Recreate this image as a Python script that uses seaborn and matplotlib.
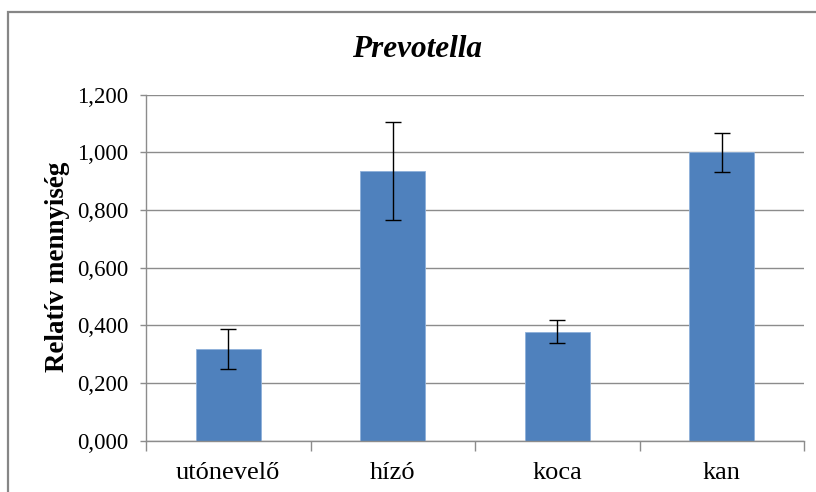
import matplotlib
matplotlib.use("Agg")
import matplotlib.pyplot as plt
import seaborn as sns
import pandas as pd
import numpy as np
from matplotlib.patches import Rectangle
from matplotlib.ticker import FuncFormatter, FixedLocator

categories = ["utónevelő", "hízó", "koca", "kan"]
values = [0.317, 0.937, 0.378, 1.000]
errors = [0.069, 0.170, 0.040, 0.068]
yticks = [0.0, 0.2, 0.4, 0.6, 0.8, 1.0, 1.2]
title = "Prevotella"
ylabel = "Relatív mennyiség"

sns.set_theme(style="white")
plt.rcParams["font.family"] = ["Liberation Serif", "DejaVu Serif"]
plt.rcParams["text.color"] = "black"

df = pd.DataFrame({"cat": categories, "val": values})

fig = plt.figure(figsize=(8.16, 4.92), dpi=100)
ax = fig.add_axes([146/816, 1-440.7/492, (804-146)/816, (440.7-94.7)/492])

sns.barplot(data=df, x="cat", y="val", color="#4F81BD", saturation=1,
            width=0.395, edgecolor="#8EB0DA", linewidth=0.6, ax=ax, zorder=2)
ax.errorbar(np.arange(len(categories)), values, yerr=errors, fmt="none",
            ecolor="black", elinewidth=1.0, capsize=5.5, capthick=1.0, zorder=3)

ax.set_xlim(-0.5, len(categories) - 0.5)
ax.set_ylim(0, 1.2)
ax.set_yticks(yticks)
ax.yaxis.set_major_formatter(FuncFormatter(lambda v, p: f"{v:.3f}".replace(".", ",")))
ax.grid(axis="y", color="#8C8C8C", linewidth=1.0, zorder=0)
ax.set_axisbelow(True)

for s in ["top", "right"]:
    ax.spines[s].set_visible(False)
for s in ["left", "bottom"]:
    ax.spines[s].set_color("#8C8C8C")
    ax.spines[s].set_linewidth(1.0)

ax.set_xlabel("")
ax.set_ylabel("")
ax.tick_params(axis="y", which="major", left=True, length=4.3, width=1.0,
               color="#8C8C8C", labelsize=16.5, pad=8.5, labelcolor="black")
ax.tick_params(axis="x", which="major", bottom=False, labelsize=19, pad=9,
               labelcolor="black")
ax.xaxis.set_minor_locator(FixedLocator(np.arange(-0.5, len(categories), 1.0)))
ax.tick_params(axis="x", which="minor", bottom=True, length=7, width=1.0,
               color="#8C8C8C")

fig.text(417.5/816, 1-56.7/492, title, ha="center", va="baseline",
         fontsize=22.5, fontweight="bold", fontstyle="italic", color="black")
fig.text(58/816, 1-266.5/492, ylabel, ha="center", va="center", rotation=90,
         fontsize=19.4, fontweight="bold", color="black")

frame = Rectangle((8/816, -0.2), 1.2, 1.2 - 12/492, transform=fig.transFigure,
                  fill=False, edgecolor="#868686", linewidth=1.6, clip_on=False)
fig.patches.append(frame)

fig.savefig("out.png", dpi=100, facecolor="white")
